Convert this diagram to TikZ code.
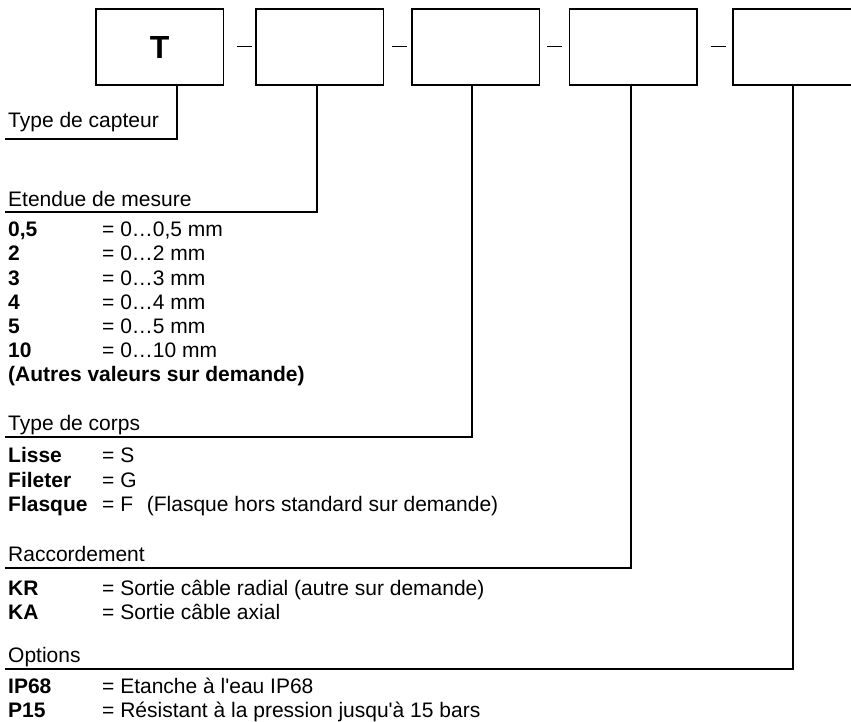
\documentclass[tikz,border=0pt]{standalone}
\usepackage{fontspec}
\setmainfont{Liberation Sans}[Ligatures=TeXOff]
\begin{document}
\begin{tikzpicture}[x=1pt,y=-1pt,
  box/.style={draw, line width=1.7pt, minimum width=127.5pt, minimum height=75.5pt, inner sep=0pt, anchor=north west},
  link/.style={line width=1.7pt},
  txt/.style={anchor=base west, inner sep=0pt, font=\fontsize{21}{24}\selectfont}]
\useasboundingbox (0,0) rectangle (851,722);
\clip (0,0) rectangle (851,722);
% boxes
\node[box] (b1) at (95,8.4) {};
\node[box] (b2) at (255,8.4) {};
\node[box] (b3) at (411,8.4) {};
\node[box] (b4) at (568.7,8.4) {};
\node[box, minimum width=160pt] (b5) at (732.3,8.4) {};
\node[font=\fontsize{32}{32}\selectfont\bfseries, inner sep=0pt] (tt) at (b1.center) {T};
% dashes
\draw[link] ([xshift=12.3pt,yshift=0.5pt]b1.east) -- ([xshift=27.3pt,yshift=0.5pt]b1.east);
\draw[link] ([xshift=7.3pt,yshift=0.5pt]b2.east) -- ([xshift=22.3pt,yshift=0.5pt]b2.east);
\draw[link] ([xshift=7pt,yshift=0.5pt]b3.east) -- ([xshift=22pt,yshift=0.5pt]b3.east);
\draw[link] ([xshift=12.7pt,yshift=0.5pt]b4.east) -- ([xshift=28pt,yshift=0.5pt]b4.east);
% connector corners
\coordinate (k1) at (176.7,139.3); \coordinate (e1) at (5,139.3);
\coordinate (k2) at (316.7,212.3); \coordinate (e2) at (5,212.3);
\coordinate (k3) at (472.3,436.7); \coordinate (e3) at (5,436.7);
\coordinate (k4) at (631,568); \coordinate (e4) at (5,568);
\coordinate (k5) at (792.7,669.3); \coordinate (e5) at (5,669.3);
\draw[link] (b1.south -| k1) -- (k1) -- (e1);
\draw[link] (b2.south -| k2) -- (k2) -- (e2);
\draw[link] (b3.south -| k3) -- (k3) -- (e3);
\draw[link] (b4.south -| k4) -- (k4) -- (e4);
\draw[link] (b5.south -| k5) -- (k5) -- (e5);
% texts
\node[txt] (h1) at (8,128) {Type de capteur};
\node[txt] (h2) at (8,207) {Etendue de mesure};
\node[txt] (r1a) at (8,236.7) {\bfseries 0,5};   \node[txt] (r1b) at (102,236.7) {= 0…0,5 mm};
\node[txt] (r2a) at (8,260.9) {\bfseries 2};     \node[txt] (r2b) at (102,260.9) {= 0…2 mm};
\node[txt] (r3a) at (8,285.1) {\bfseries 3};     \node[txt] (r3b) at (102,285.1) {= 0…3 mm};
\node[txt] (r4a) at (8,309.3) {\bfseries 4};     \node[txt] (r4b) at (102,309.3) {= 0…4 mm};
\node[txt] (r5a) at (8,333.5) {\bfseries 5};     \node[txt] (r5b) at (102,333.5) {= 0…5 mm};
\node[txt] (r6a) at (8,357.7) {\bfseries 10};    \node[txt] (r6b) at (102,357.7) {= 0…10 mm};
\node[txt] (r7) at (8,381.9) {\bfseries (Autres valeurs sur demande)};
\node[txt] (h3) at (8,430) {Type de corps};
\node[txt] (s1a) at (8,462.7) {\bfseries Lisse};   \node[txt] (s1b) at (102,462.7) {= S};
\node[txt] (s2a) at (8,487.2) {\bfseries Fileter}; \node[txt] (s2b) at (102,487.2) {= G};
\node[txt] (s3a) at (8,511.7) {\bfseries Flasque}; \node[txt] (s3b) at (102,511.7) {= F};
\node[txt] (s3c) at (146.7,511.7) {(Flasque hors standard sur demande)};
\node[txt] (h4) at (8,561.7) {Raccordement};
\node[txt] (c1a) at (8,595) {\bfseries KR}; \node[txt] (c1b) at (102,595) {= Sortie câble radial (autre sur demande)};
\node[txt] (c2a) at (8,619.3) {\bfseries KA}; \node[txt] (c2b) at (102,619.3) {= Sortie câble axial};
\node[txt] (h5) at (8,662.7) {Options};
\node[txt] (o1a) at (8,693.3) {\bfseries IP68}; \node[txt] (o1b) at (102,693.3) {= Etanche à l'eau IP68};
\node[txt] (o2a) at (8,717.3) {\bfseries P15}; \node[txt] (o2b) at (102,717.3) {= Résistant à la pression jusqu'à 15 bars};
\end{tikzpicture}
\end{document}
